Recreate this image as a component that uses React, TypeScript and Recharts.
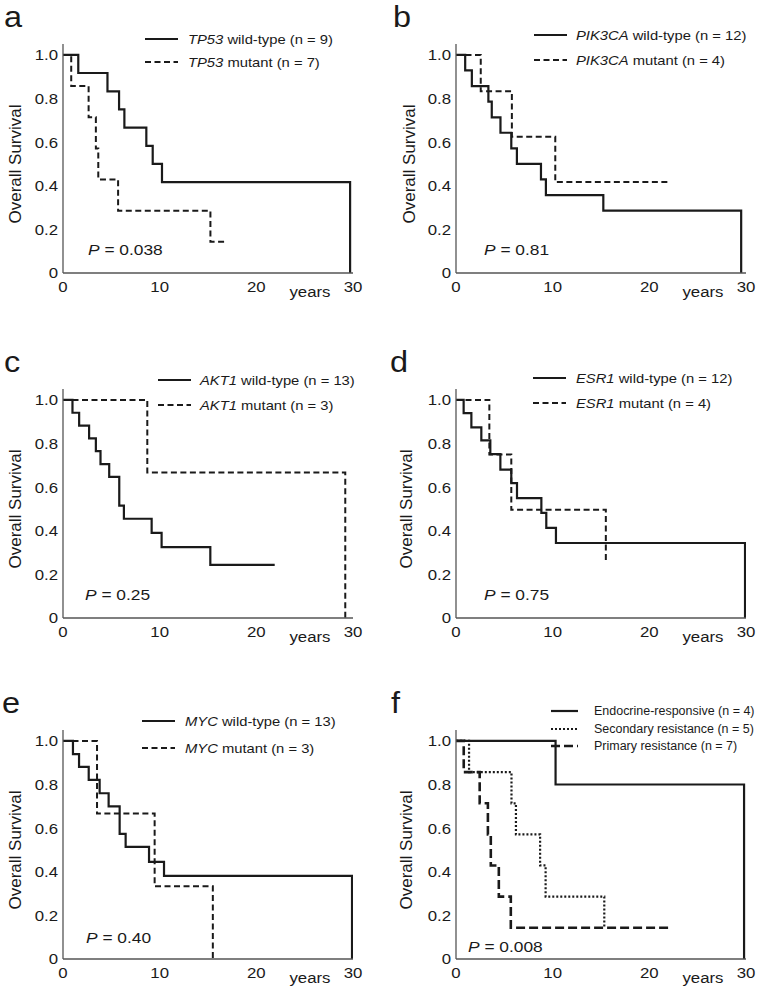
import { Line, LineChart, XAxis, YAxis } from "recharts"

const FONT = '"Liberation Sans", Arial, Helvetica, sans-serif'
const INK = "#1a1a1a"
const AXIS = "#555"

const YEAR_TICKS = [0, 10, 20, 30]
const SURV_TICKS = [0, 0.2, 0.4, 0.6, 0.8, 1.0]

// a: TP53
const tp53WtTime = [0, 1.58, 4.6, 5.8, 6.35, 8.62, 9.28, 10.24, 29.7]
const tp53WtSurv = [1, 0.917, 0.833, 0.75, 0.667, 0.583, 0.5, 0.417, 0]
const tp53MutTime = [0, 0.85, 2.65, 3.4, 3.65, 5.7, 15.25, 16.8]
const tp53MutSurv = [1, 0.857, 0.714, 0.571, 0.429, 0.286, 0.143, 0.143]

// b: PIK3CA
const pik3caWtTime = [0, 0.95, 1.64, 3.35, 3.7, 4.6, 5.72, 6.3, 8.79, 9.3, 15.24, 29.5]
const pik3caWtSurv = [1, 0.929, 0.857, 0.786, 0.714, 0.643, 0.571, 0.5, 0.429, 0.357, 0.286, 0]
const pik3caMutTime = [0, 2.56, 5.78, 10.27, 22.1]
const pik3caMutSurv = [1, 0.833, 0.625, 0.417, 0.417]

// c: AKT1
const akt1WtTime = [0, 0.98, 1.67, 2.7, 3.4, 3.88, 4.78, 5.82, 6.3, 9.17, 10.2, 15.24, 21.9]
const akt1WtSurv = [1, 0.941, 0.882, 0.824, 0.765, 0.706, 0.647, 0.515, 0.455, 0.39, 0.325, 0.244, 0.244]
const akt1MutTime = [0, 8.72, 29.2]
const akt1MutSurv = [1, 0.667, 0]

// d: ESR1
const esr1WtTime = [0, 0.79, 1.59, 2.62, 3.55, 4.59, 5.72, 6.31, 8.83, 9.34, 10.34, 29.9]
const esr1WtSurv = [1, 0.939, 0.874, 0.814, 0.751, 0.68, 0.618, 0.55, 0.482, 0.413, 0.344, 0]
const esr1MutTime = [0, 3.45, 5.72, 15.5]
const esr1MutSurv = [1, 0.75, 0.496, 0.26]

// e: MYC
const mycWtTime = [0, 1.03, 1.66, 2.66, 3.79, 4.72, 5.86, 6.48, 8.9, 10.45, 29.9]
const mycWtSurv = [1, 0.939, 0.881, 0.821, 0.76, 0.7, 0.574, 0.514, 0.445, 0.381, 0]
const mycMutTime = [0, 3.52, 9.48, 15.5]
const mycMutSurv = [1, 0.667, 0.333, 0]

// f: endocrine response
const endoRespTime = [0, 10.3, 29.8]
const endoRespSurv = [1, 0.8, 0]
const secResTime = [0, 1.35, 5.74, 6.2, 8.7, 9.27, 15.34]
const secResSurv = [1, 0.857, 0.714, 0.571, 0.429, 0.286, 0.143]
const priResTime = [0, 0.8, 2.45, 3.3, 3.6, 4.43, 5.67, 22.1]
const priResSurv = [1, 0.857, 0.714, 0.571, 0.429, 0.286, 0.143, 0.143]

type LineStyle = { width: number; dash?: string }
const SOLID: LineStyle = { width: 2.2 }
const DASH: LineStyle = { width: 2, dash: "6 3.5" }
const LONGDASH: LineStyle = { width: 2.6, dash: "9 4" }
const DOT: LineStyle = { width: 2.2, dash: "2 2" }

type Series = {
  italic?: string
  label: string
  time: number[]
  surv: number[]
  style: LineStyle
}

type PanelProps = {
  letter: string
  letterX: number
  left: number
  top: number
  plotLeft: number
  yLabelX: number
  pX: number
  pY: number
  pValue: string
  legendX: number
  legendLen: number
  legendGap: number
  legendRows: number[]
  legendSize: number
  legendStretch: number
  series: Series[]
}

const km = (time: number[], surv: number[]) =>
  time.map((t, i) => ({ t, s: surv[i] }))

const XTick = (props: any) => {
  const { x, y, payload } = props
  return (
    <g transform={`translate(${x},${y + 19})`}>
      <text transform='scale(1.12,1)' textAnchor='middle' fontSize={15} fill={INK} fontFamily={FONT}>
        {payload.value}
      </text>
    </g>
  )
}

const YTick = (props: any) => {
  const { x, y, payload } = props
  const v = payload.value === 0 ? "0" : Number(payload.value).toFixed(1)
  return (
    <g transform={`translate(${x - 5},${y})`}>
      <text transform='scale(1.12,1)' textAnchor='end' dy='0.36em' fontSize={15} fill={INK} fontFamily={FONT}>
        {v}
      </text>
    </g>
  )
}

const W = 381
const H = 303
const PW = 290

const Panel = (p: PanelProps) => {
  return (
    <div style={{ position: "absolute", left: p.left, top: p.top, width: W, height: H }}>
      <LineChart
        width={W}
        height={H}
        margin={{ top: 44, right: W - p.plotLeft - PW, bottom: 0, left: 0 }}
      >
        <XAxis
          type='number'
          dataKey='t'
          domain={[0, 30]}
          ticks={YEAR_TICKS}
          height={30}
          tickLine={false}
          tickSize={0}
          tickMargin={0}
          axisLine={{ stroke: AXIS, strokeWidth: 1.3 }}
          tick={XTick}
          allowDataOverflow
        />
        <YAxis
          type='number'
          domain={[0, 1.05]}
          ticks={SURV_TICKS}
          width={p.plotLeft}
          tickLine={false}
          tickSize={0}
          tickMargin={0}
          axisLine={{ stroke: AXIS, strokeWidth: 1.3 }}
          tick={YTick}
          allowDataOverflow
        />
        {p.series.map((s, i) => (
          <Line
            key={i}
            data={km(s.time, s.surv)}
            dataKey='s'
            type='stepAfter'
            stroke={INK}
            strokeWidth={s.style.width}
            strokeDasharray={s.style.dash}
            dot={false}
            activeDot={false}
            isAnimationActive={false}
          />
        ))}
      </LineChart>
      <svg
        width={W}
        height={H}
        style={{ position: "absolute", left: 0, top: 0, pointerEvents: "none", overflow: "visible" }}
        fontFamily={FONT}
        fill={INK}
      >
        <text transform={`translate(${p.letterX},27) scale(1.12,1)`} fontSize={29}>
          {p.letter}
        </text>
        <text
          transform={`translate(${p.yLabelX},164) rotate(-90)`}
          textAnchor='middle'
          dy='0.35em'
          fontSize={17}
        >
          Overall Survival
        </text>
        <text transform={`translate(${p.plotLeft + 247},297) scale(1.12,1)`} textAnchor='middle' fontSize={15}>
          years
        </text>
        <text transform={`translate(${p.pX},${p.pY}) scale(1.12,1)`} fontSize={15.5}>
          <tspan fontStyle='italic'>P</tspan> = {p.pValue}
        </text>
        {p.series.map((s, i) => {
          const y = p.legendRows[i]
          return (
            <g key={i}>
              <line
                x1={p.legendX}
                x2={p.legendX + p.legendLen}
                y1={y}
                y2={y}
                stroke={INK}
                strokeWidth={s.style.width}
                strokeDasharray={s.style.dash}
              />
              <text
                transform={`translate(${p.legendX + p.legendLen + p.legendGap},${y}) scale(${p.legendStretch},1)`}
                dy='0.36em'
                fontSize={p.legendSize}
              >
                {s.italic && <tspan fontStyle='italic'>{s.italic}</tspan>}
                {s.label}
              </text>
            </g>
          )
        })}
      </svg>
    </div>
  )
}

const panels: PanelProps[] = [
  {
    letter: "a", letterX: 4, left: 0, top: 0, plotLeft: 63, yLabelX: 15,
    pX: 88, pY: 255, pValue: "0.038",
    legendX: 145, legendLen: 33, legendGap: 10, legendRows: [39, 62], legendSize: 13.2, legendStretch: 1.12,
    series: [
      { italic: "TP53", label: " wild-type (n = 9)", time: tp53WtTime, surv: tp53WtSurv, style: SOLID },
      { italic: "TP53", label: " mutant (n = 7)", time: tp53MutTime, surv: tp53MutSurv, style: DASH },
    ],
  },
  {
    letter: "b", letterX: 12, left: 381, top: 0, plotLeft: 75, yLabelX: 28,
    pX: 103, pY: 255, pValue: "0.81",
    legendX: 153, legendLen: 33, legendGap: 9, legendRows: [35, 60], legendSize: 13.2, legendStretch: 1.12,
    series: [
      { italic: "PIK3CA", label: " wild-type (n = 12)", time: pik3caWtTime, surv: pik3caWtSurv, style: SOLID },
      { italic: "PIK3CA", label: " mutant (n = 4)", time: pik3caMutTime, surv: pik3caMutSurv, style: DASH },
    ],
  },
  {
    letter: "c", letterX: 4, left: 0, top: 345, plotLeft: 63, yLabelX: 15,
    pX: 85, pY: 255, pValue: "0.25",
    legendX: 158, legendLen: 33, legendGap: 9, legendRows: [35, 60], legendSize: 13.2, legendStretch: 1.12,
    series: [
      { italic: "AKT1", label: " wild-type (n = 13)", time: akt1WtTime, surv: akt1WtSurv, style: SOLID },
      { italic: "AKT1", label: " mutant (n = 3)", time: akt1MutTime, surv: akt1MutSurv, style: DASH },
    ],
  },
  {
    letter: "d", letterX: 9, left: 381, top: 345, plotLeft: 75, yLabelX: 25,
    pX: 103, pY: 255, pValue: "0.75",
    legendX: 152, legendLen: 33, legendGap: 10, legendRows: [33, 58], legendSize: 13.2, legendStretch: 1.12,
    series: [
      { italic: "ESR1", label: " wild-type (n = 12)", time: esr1WtTime, surv: esr1WtSurv, style: SOLID },
      { italic: "ESR1", label: " mutant (n = 4)", time: esr1MutTime, surv: esr1MutSurv, style: DASH },
    ],
  },
  {
    letter: "e", letterX: 2, left: 0, top: 686, plotLeft: 63, yLabelX: 15,
    pX: 86, pY: 257, pValue: "0.40",
    legendX: 142, legendLen: 33, legendGap: 10, legendRows: [35, 62], legendSize: 13.2, legendStretch: 1.12,
    series: [
      { italic: "MYC", label: " wild-type (n = 13)", time: mycWtTime, surv: mycWtSurv, style: SOLID },
      { italic: "MYC", label: " mutant (n = 3)", time: mycMutTime, surv: mycMutSurv, style: DASH },
    ],
  },
  {
    letter: "f", letterX: 10, left: 381, top: 686, plotLeft: 75, yLabelX: 25,
    pX: 87, pY: 266, pValue: "0.008",
    legendX: 170, legendLen: 27, legendGap: 16, legendRows: [25, 43, 60], legendSize: 12, legendStretch: 1.04,
    series: [
      { label: "Endocrine-responsive (n = 4)", time: endoRespTime, surv: endoRespSurv, style: SOLID },
      { label: "Secondary resistance (n = 5)", time: secResTime, surv: secResSurv, style: DOT },
      { label: "Primary resistance (n = 7)", time: priResTime, surv: priResSurv, style: LONGDASH },
    ],
  },
]

export default function App() {
  return (
    <div
      style={{
        position: "absolute",
        left: 0,
        top: 0,
        width: 762,
        height: 989,
        overflow: "hidden",
        background: "#fff",
        fontFamily: FONT,
      }}
    >
      {panels.map((p) => (
        <Panel key={p.letter} {...p} />
      ))}
    </div>
  )
}
